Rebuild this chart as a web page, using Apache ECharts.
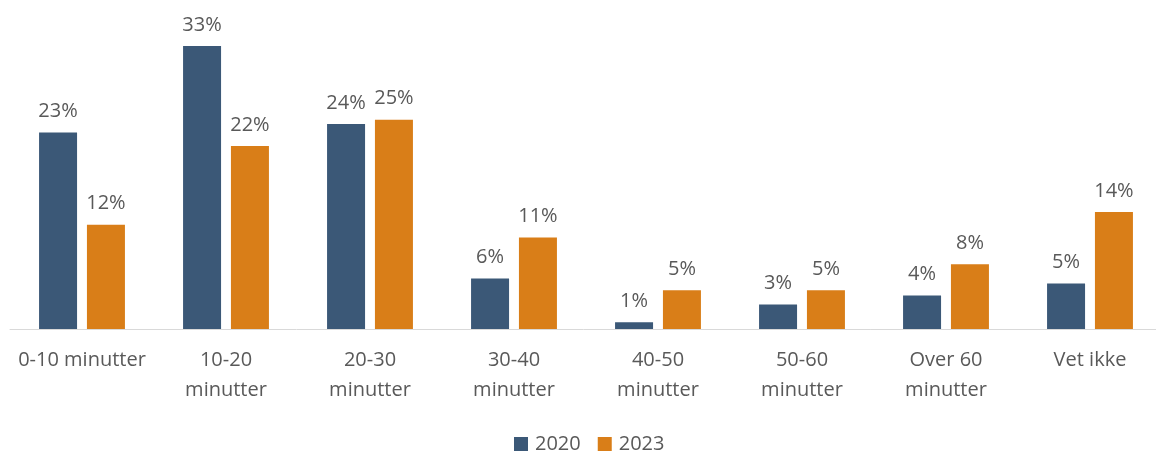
<!DOCTYPE html>
<html>
<head>
<meta charset="utf-8">
<script src="https://cdn.jsdelivr.net/npm/echarts@6/dist/echarts.min.js"></script>
<style>
html,body{margin:0;padding:0;background:#fff;}
#chart{width:1156px;height:453px;}
</style>
</head>
<body>
<div id="chart"></div>
<script>
const categories = ['0-10 minutter', '10-20\nminutter', '20-30\nminutter', '30-40\nminutter', '40-50\nminutter', '50-60\nminutter', 'Over 60\nminutter', 'Vet ikke'];
const seriesNames = ['2020', '2023'];
const values2020 = [23.2, 33.4, 24.2, 5.95, 0.8, 2.9, 3.94, 5.36];
const values2023 = [12.3, 21.6, 24.7, 10.8, 4.57, 4.57, 7.64, 13.8];
const colors = ['#3B5877', '#D97E18'];

const FONT = 'Open Sans';
const chart = echarts.init(document.getElementById('chart'));
const labelStyle = {
  show: true,
  position: 'top',
  distance: 11,
  fontFamily: FONT,
  fontSize: 20,
  color: '#595959',
  formatter: p => Math.round(p.value) + '%'
};
chart.setOption({
  animation: false,
  grid: { left: 10, width: 1152, top: 24, bottom: 124, containLabel: false, outerBoundsMode: 'none' },
  legend: {
    data: seriesNames,
    top: 429,
    left: 509,
    itemWidth: 14,
    itemHeight: 14,
    itemGap: 17,
    icon: 'rect',
    textStyle: { fontFamily: FONT, fontSize: 20, color: '#595959', padding: [0, 0, 0, 2] }
  },
  xAxis: {
    type: 'category',
    data: categories,
    axisLine: { show: true, lineStyle: { color: '#D9D9D9', width: 1 } },
    axisTick: { show: false },
    axisLabel: {
      margin: 16,
      fontFamily: FONT,
      fontSize: 20,
      lineHeight: 30,
      color: '#595959',
      interval: 0
    }
  },
  yAxis: {
    type: 'value',
    min: 0,
    max: 36,
    show: false,
    splitLine: { show: false }
  },
  series: [
    {
      name: seriesNames[0],
      type: 'bar',
      data: values2020,
      barWidth: 38,
      barGap: '26%',
      itemStyle: { color: colors[0] },
      label: labelStyle
    },
    {
      name: seriesNames[1],
      type: 'bar',
      data: values2023,
      barWidth: 38,
      barGap: '26%',
      itemStyle: { color: colors[1] },
      label: labelStyle
    }
  ]
});
</script>
</body>
</html>
